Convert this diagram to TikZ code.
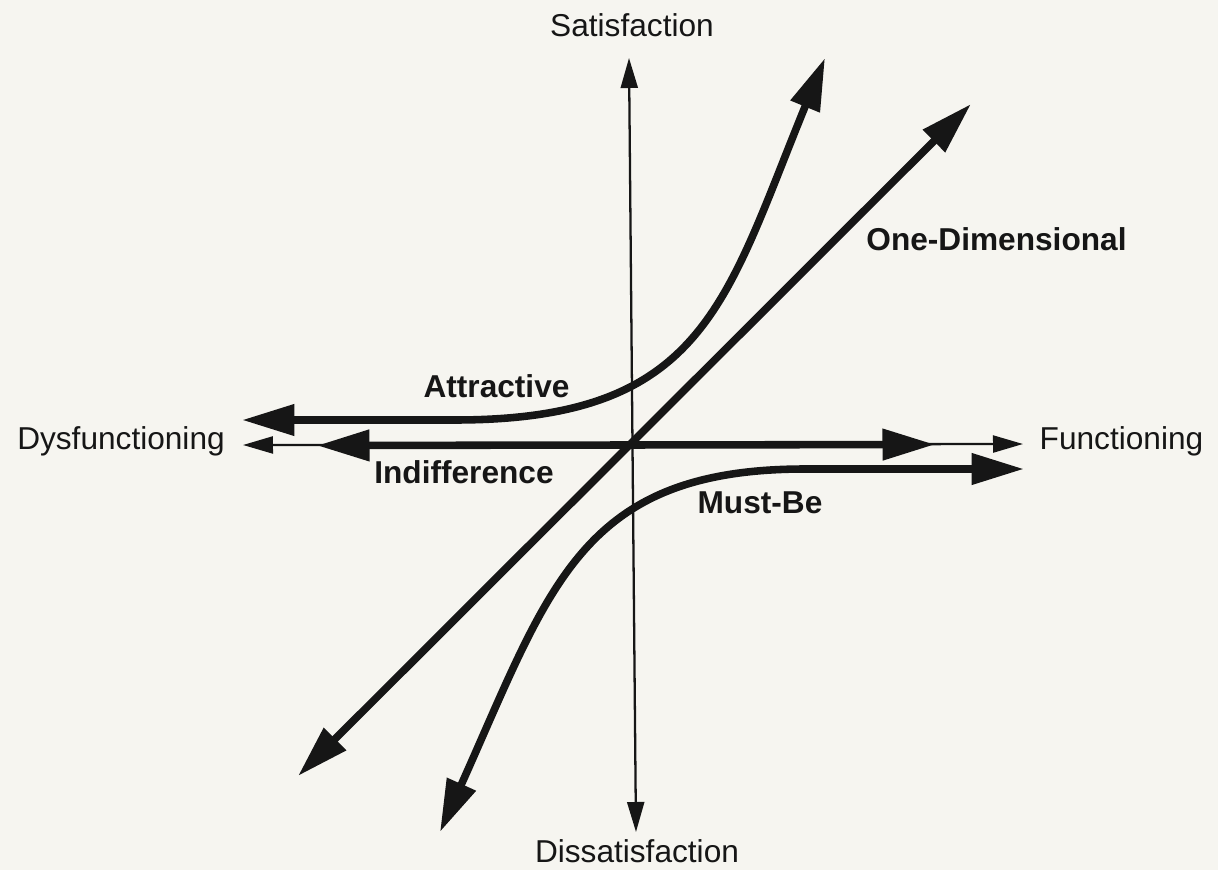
\documentclass[tikz,border=0pt]{standalone}
\usepackage{fontspec}
\setmainfont{Liberation Sans}
\usetikzlibrary{arrows.meta}
\definecolor{paper}{RGB}{246,245,240}
\definecolor{ink}{RGB}{22,22,22}
\begin{document}
\begin{tikzpicture}[
    axisline/.style={draw=ink, line width=1.3pt,
        {Triangle[length=0.6cm,width=0.34cm]}-{Triangle[length=0.6cm,width=0.34cm]}},
    curve/.style={draw=ink, line width=4.3pt,
        {Triangle[length=1.05cm,width=0.6cm]}-{Triangle[length=1.05cm,width=0.6cm]}},
    axislabel/.style={font=\fontsize{18}{20}\selectfont, text=ink, anchor=base},
    curvelabel/.style={font=\fontsize{18}{20}\selectfont\bfseries, text=ink, anchor=base}
]
    % Page
    \fill[paper] (-12.6,-8.46) rectangle (11.76,8.94);
    \useasboundingbox (-12.6,-8.46) rectangle (11.76,8.94);
    % Axis end points
    \coordinate (dys) at (-7.74,0.04);
    \coordinate (fun) at (7.86,0.06);
    \coordinate (dis) at (0.12,-7.7);
    \coordinate (sat) at (-0.02,7.78);
    % Curve end points
    \coordinate (ind-l) at (-6.26,0.03);
    \coordinate (ind-r) at (6.1,0.05);
    \coordinate (one-l) at (-6.64,-6.58);
    \coordinate (one-r) at (6.82,6.86);
    \coordinate (att-l) at (-7.76,0.54);
    \coordinate (att-b) at (-3.5,0.54);
    \coordinate (att-t) at (3.9,7.78);
    \coordinate (mb-r) at (7.88,-0.44);
    \coordinate (mb-b) at (3.5,-0.44);
    \coordinate (mb-t) at (-3.8,-7.7);
    % Axes
    \draw[axisline] (dys) -- (fun);
    \draw[axisline] (dis) -- (sat);
    % Curves
    \draw[curve] (ind-l) -- (ind-r);
    \draw[curve] (one-l) -- (one-r);
    \draw[curve] (att-l) -- (att-b) .. controls (1.5,0.54) and (1.9,2.9) .. (att-t);
    \draw[curve] (mb-r) -- (mb-b) .. controls (-1.0,-0.44) and (-1.6,-2.8) .. (mb-t);
    % Axis labels
    \node[axislabel] (satlbl) at (0.04,8.2) {Satisfaction};
    \node[axislabel] (dislbl) at (0.14,-8.3) {Dissatisfaction};
    \node[axislabel] (dyslbl) at (-10.18,-0.04) {Dysfunctioning};
    \node[axislabel] (funlbl) at (9.83,-0.04) {Functioning};
    % Curve labels
    \node[curvelabel] (attlbl) at (-2.67,1.0) {Attractive};
    \node[curvelabel] (indlbl) at (-3.32,-0.72) {Indifference};
    \node[curvelabel] (mblbl) at (2.6,-1.32) {Must-Be};
    \node[curvelabel] (onelbl) at (7.33,3.94) {One-Dimensional};
\end{tikzpicture}
\end{document}
